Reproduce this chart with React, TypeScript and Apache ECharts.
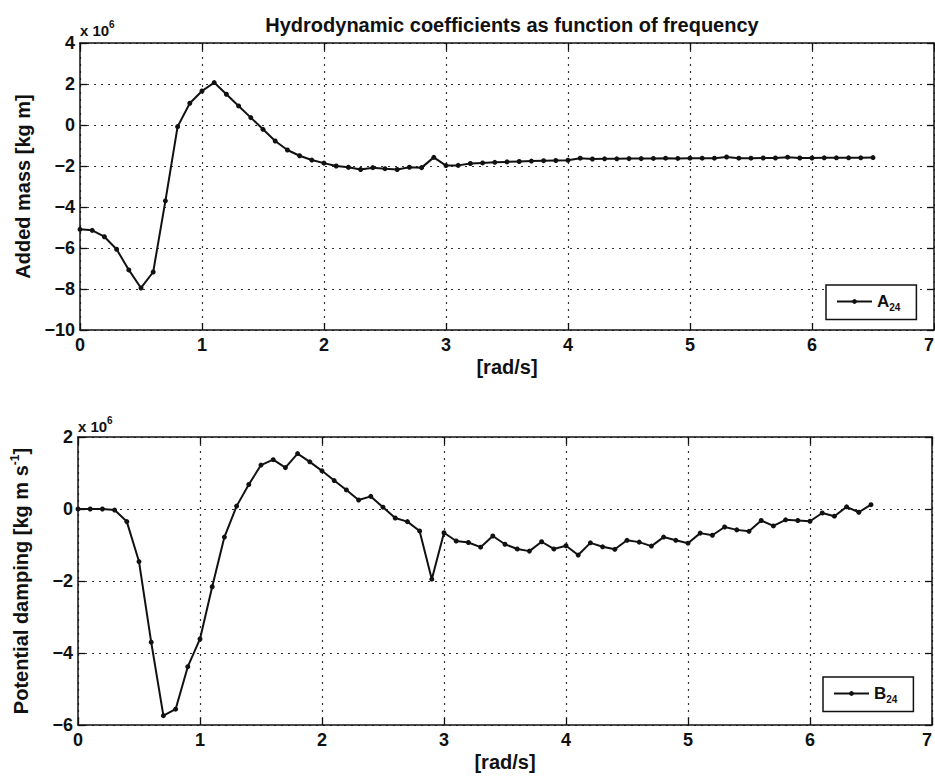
import React, { useEffect, useRef } from "react";
import * as echarts from "echarts";

// Frequency grid [rad/s]
const freq = [
  0, 0.1, 0.2, 0.3, 0.4, 0.5, 0.6, 0.7, 0.8, 0.9,
  1.0, 1.1, 1.2, 1.3, 1.4, 1.5, 1.6, 1.7, 1.8, 1.9,
  2.0, 2.1, 2.2, 2.3, 2.4, 2.5, 2.6, 2.7, 2.8, 2.9,
  3.0, 3.1, 3.2, 3.3, 3.4, 3.5, 3.6, 3.7, 3.8, 3.9,
  4.0, 4.1, 4.2, 4.3, 4.4, 4.5, 4.6, 4.7, 4.8, 4.9,
  5.0, 5.1, 5.2, 5.3, 5.4, 5.5, 5.6, 5.7, 5.8, 5.9,
  6.0, 6.1, 6.2, 6.3, 6.4, 6.5,
];

// Added mass A24 [x 10^6 kg m]
const addedMass = [
  -5.09, -5.14, -5.45, -6.06, -7.07, -7.95, -7.17, -3.7, -0.08, 1.06,
  1.66, 2.07, 1.5, 0.93, 0.36, -0.21, -0.78, -1.22, -1.5, -1.71,
  -1.86, -2.0, -2.06, -2.17, -2.08, -2.13, -2.17, -2.06, -2.08, -1.58,
  -1.98, -1.97, -1.88, -1.85, -1.82, -1.8, -1.78, -1.76, -1.74, -1.73,
  -1.72, -1.62, -1.66, -1.65, -1.65, -1.64, -1.64, -1.63, -1.62, -1.63,
  -1.62, -1.62, -1.62, -1.56, -1.62, -1.62, -1.61, -1.61, -1.57, -1.61,
  -1.61, -1.6, -1.6, -1.6, -1.6, -1.59,
];

// Potential damping B24 [x 10^6 kg m s^-1]
const damping = [
  0, 0, 0, -0.03, -0.35, -1.46, -3.7, -5.74, -5.56, -4.38,
  -3.61, -2.16, -0.78, 0.08, 0.68, 1.22, 1.37, 1.15, 1.54, 1.31,
  1.06, 0.79, 0.53, 0.25, 0.35, 0.05, -0.25, -0.35, -0.61, -1.95,
  -0.66, -0.89, -0.93, -1.06, -0.75, -0.98, -1.11, -1.17, -0.91, -1.11,
  -1.02, -1.28, -0.94, -1.05, -1.12, -0.87, -0.92, -1.03, -0.78, -0.87,
  -0.95, -0.67, -0.73, -0.5, -0.58, -0.62, -0.32, -0.47, -0.3, -0.32,
  -0.34, -0.11, -0.2, 0.06, -0.09, 0.12,
];

const seriesNames = ["A24", "B24"];
const titleText = "Hydrodynamic coefficients as function of frequency";
const xName = "[rad/s]";

const FONT = '"Liberation Sans", Arial, Helvetica, sans-serif';
const INK = "#111";

const minusFmt = (v: number) => (v < 0 ? "\u2212" + Math.abs(v) : String(v));

const axisLine = { show: true, onZero: false, lineStyle: { color: INK, width: 1.5 } };
const axisTick = { show: true, inside: true, length: 7, lineStyle: { color: INK, width: 1.3 } };
const gridDots = { show: true, lineStyle: { color: "#333", width: 1.2, type: [2, 5] } };
const tickLabel = { fontSize: 18, fontWeight: "bold", fontFamily: FONT, color: INK };

function xAxes(gridIndex: number) {
  return [
    {
      gridIndex,
      type: "value",
      position: "bottom",
      min: 0,
      max: 7,
      interval: 1,
      axisLine,
      axisTick,
      axisLabel: { ...tickLabel, margin: 6, alignMaxLabel: "right" },
      splitLine: gridDots,
      name: xName,
      nameLocation: "middle",
      nameGap: 27,
      nameTextStyle: { fontSize: 20, fontWeight: "bold", fontFamily: FONT, color: INK },
    },
    {
      gridIndex,
      type: "value",
      position: "top",
      min: 0,
      max: 7,
      interval: 1,
      axisLine,
      axisTick,
      axisLabel: { show: false },
      splitLine: { show: false },
    },
  ];
}

function yAxes(gridIndex: number, min: number, max: number, name: string, rich: any, gap: number) {
  return [
    {
      gridIndex,
      type: "value",
      position: "left",
      min,
      max,
      interval: 2,
      axisLine,
      axisTick,
      axisLabel: { ...tickLabel, margin: 5, formatter: minusFmt },
      splitLine: gridDots,
      name,
      nameLocation: "middle",
      nameRotate: 90,
      nameGap: gap,
      nameTextStyle: { fontSize: 20, fontWeight: "bold", fontFamily: FONT, color: INK, rich },
    },
    {
      gridIndex,
      type: "value",
      position: "right",
      min,
      max,
      interval: 2,
      axisLine,
      axisTick,
      axisLabel: { show: false },
      splitLine: { show: false },
    },
  ];
}

function legendFor(name: string, left: number, top: number) {
  return {
    data: [name],
    left,
    top,
    orient: "horizontal",
    selectedMode: false,
    backgroundColor: "#fff",
    borderColor: INK,
    borderWidth: 1.5,
    borderRadius: 0,
    padding: [8, 16, 7, 10],
    itemWidth: 35,
    itemHeight: 6,
    formatter: (n: string) => `{m|${n.charAt(0)}}{s|${n.slice(1)}}`,
    textStyle: {
      color: INK,
      rich: {
        m: { fontSize: 17, fontWeight: "bold", fontFamily: FONT, color: INK, lineHeight: 22, verticalAlign: "middle" },
        s: { fontSize: 10, fontWeight: "bold", fontFamily: FONT, color: INK, lineHeight: 10, verticalAlign: "bottom" },
      },
    },
  };
}

function lineSeries(name: string, values: number[], axisIndex: number) {
  return {
    name,
    type: "line",
    xAxisIndex: axisIndex,
    yAxisIndex: axisIndex,
    data: freq.map((f, i) => [f, values[i]]),
    symbol: "circle",
    symbolSize: 5,
    showSymbol: true,
    lineStyle: { color: INK, width: 2 },
    itemStyle: { color: INK },
  };
}

export default function App() {
  const ref = useRef<HTMLDivElement>(null);

  useEffect(() => {
    if (!ref.current) return;
    const chart = echarts.init(ref.current, null, { renderer: "svg" });

    // "x 10^6" scale note above each left axis
    const exponentLabel = (x: number, y: number) => [
      {
        type: "text",
        x,
        y,
        style: { text: "x 10", font: `bold 15px ${FONT}`, fill: INK, verticalAlign: "middle", align: "left" },
      },
      {
        type: "text",
        x: x + 29,
        y: y - 6,
        style: { text: "6", font: `bold 10px ${FONT}`, fill: INK, verticalAlign: "middle", align: "left" },
      },
    ];

    chart.setOption({
      animation: false,
      backgroundColor: "#fff",
      title: {
        text: titleText,
        left: 507,
        top: 10,
        textAlign: "center",
        textStyle: { fontSize: 20, fontWeight: "bold", fontFamily: FONT, color: INK },
      },
      grid: [
        { left: 80, top: 43, width: 854, height: 287, outerBoundsMode: "none", containLabel: false },
        { left: 78, top: 437, width: 854, height: 288, outerBoundsMode: "none", containLabel: false },
      ],
      xAxis: [...xAxes(0), ...xAxes(1)],
      yAxis: [
        ...yAxes(0, -10, 4, "Added mass [kg m]", undefined, 47),
        ...yAxes(
          1,
          -6,
          2,
          "{n|Potential damping [kg m s}{p|-1}{n|]}",
          {
            n: { fontSize: 20, fontWeight: "bold", fontFamily: FONT, color: INK, lineHeight: 24, verticalAlign: "middle" },
            p: { fontSize: 12, fontWeight: "bold", fontFamily: FONT, color: INK, lineHeight: 12, verticalAlign: "top" },
          },
          45
        ),
      ],
      legend: [legendFor(seriesNames[0], 826, 285), legendFor(seriesNames[1], 823, 677)],
      series: [lineSeries(seriesNames[0], addedMass, 0), lineSeries(seriesNames[1], damping, 2)],
      graphic: [...exponentLabel(80, 30), ...exponentLabel(78, 426)],
    });

    return () => chart.dispose();
  }, []);

  return (
    <div
      ref={ref}
      style={{ position: "fixed", left: 0, top: 0, width: 935, height: 778, background: "#fff" }}
    />
  );
}
